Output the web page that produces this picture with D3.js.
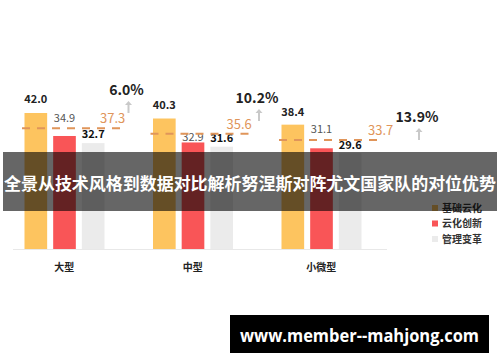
<!DOCTYPE html>
<html>
<head>
<meta charset="utf-8">
<script src="https://cdn.jsdelivr.net/npm/d3@7"></script>
<style>
  html, body { margin: 0; padding: 0; background: #fff; }
  svg { display: block; font-family: "Noto Sans CJK SC", "Noto Sans", sans-serif; }
</style>
</head>
<body>
<div id="chart"></div>
<script>
// data
var categories = ["大型", "中型", "小微型"];
var seriesNames = ["基础云化", "云化创新", "管理变革"];
var baseCloud = [42.0, 40.3, 38.4];
var cloudInnov = [34.9, 32.9, 31.1];
var mgmtChange = [32.7, 31.6, 29.6];
var averages = [37.3, 35.6, 33.7];
var growth = ["6.0%", "10.2%", "13.9%"];
var title = "全景从技术风格到数据对比解析努涅斯对阵尤文国家队的对位优势";
var watermark = "www.member--mahjong.com";

var colors = ["#fdc45f", "#f95557", "#ebebeb"];
var labelColors = ["#222", "#555", "#111"];

var W = 500, H = 362;

var svg = d3.select("#chart").append("svg")
    .attr("width", W)
    .attr("height", H);

var x0 = d3.scaleBand().domain(categories).range([0, 385.5]).padding(0);
var x1 = d3.scaleBand().domain(seriesNames).range([24.5, 104.5]).paddingInner(0.21).paddingOuter(0);
var y = d3.scaleLinear().domain([0, 42]).range([249, 113]);

var rows = categories.map(function (c, i) {
    return { cat: c, i: i, vals: [baseCloud[i], cloudInnov[i], mgmtChange[i]] };
});

// baseline
svg.append("line")
    .attr("x1", 13).attr("x2", 387)
    .attr("y1", y(0) + 0.5).attr("y2", y(0) + 0.5)
    .attr("stroke", "#e8e8e8").attr("stroke-width", 1);

var g = svg.selectAll("g.grp")
    .data(rows)
    .enter().append("g")
    .attr("class", "grp")
    .attr("transform", function (d) { return "translate(" + x0(d.cat) + ",0)"; });

g.selectAll("rect")
    .data(function (d) {
        return d.vals.map(function (v, k) { return { name: seriesNames[k], v: v, k: k }; });
    })
    .enter().append("rect")
    .attr("x", function (d) { return x1(d.name); })
    .attr("y", function (d) { return y(d.v); })
    .attr("width", x1.bandwidth())
    .attr("height", function (d) { return y(0) - y(d.v); })
    .style("fill", function (d) { return colors[d.k]; });

// how far each value label sits above its bar
var lift = [[10, 14, 5], [10, 1, 5], [9, 15, 4]];

g.selectAll("text.val")
    .data(function (d) {
        return d.vals.map(function (v, k) { return { name: seriesNames[k], v: v, k: k, i: d.i }; });
    })
    .enter().append("text")
    .attr("class", "val")
    .attr("x", function (d) { return x1(d.name) + x1.bandwidth() / 2; })
    .attr("y", function (d) { return y(d.v) - lift[d.i][d.k]; })
    .attr("text-anchor", "middle")
    .style("font-size", "11px")
    .style("font-weight", function (d) { return d.k == 1 ? "400" : "600"; })
    .style("fill", function (d) { return labelColors[d.k]; })
    .text(function (d) { return d.v.toFixed(1); });

// average dashed line
g.append("line")
    .attr("x1", 22)
    .attr("x2", 123)
    .attr("y1", function (d) { return y(averages[d.i]); })
    .attr("y2", function (d) { return y(averages[d.i]); })
    .attr("stroke", "#e0955a")
    .attr("stroke-width", 2)
    .attr("stroke-dasharray", "8,7");

var avgX = [100, 98, 111];
g.append("text")
    .attr("x", function (d) { return avgX[d.i]; })
    .attr("y", function (d) { return y(averages[d.i]) - 5; })
    .style("font-size", "13px")
    .style("fill", "#e0955a")
    .text(function (d) { return averages[d.i].toFixed(1); });

// growth labels with little arrows
var pctX = [126.5, 128.5, 160];
var pctY = [95, 103, 122];

g.append("text")
    .attr("x", function (d) { return pctX[d.i]; })
    .attr("y", function (d) { return pctY[d.i]; })
    .attr("text-anchor", "middle")
    .style("font-size", "14px")
    .style("font-weight", "700")
    .style("fill", "#222")
    .text(function (d) { return growth[d.i]; });

var arrow = g.append("g")
    .attr("transform", function (d) {
        return "translate(" + (pctX[d.i] + 2) + "," + (pctY[d.i] + 6) + ")";
    });
arrow.append("line")
    .attr("x1", 0).attr("x2", 0)
    .attr("y1", 3).attr("y2", 12)
    .attr("stroke", "#c9c9c9").attr("stroke-width", 2);
arrow.append("path")
    .attr("d", "M-3.5,4 L0,0 L3.5,4 Z")
    .style("fill", "#c9c9c9");

// category labels
svg.selectAll("text.cat")
    .data(categories)
    .enter().append("text")
    .attr("class", "cat")
    .attr("x", function (d) { return x0(d) + x0.bandwidth() / 2; })
    .attr("y", 271)
    .attr("text-anchor", "middle")
    .style("font-size", "10px")
    .style("font-weight", "700")
    .style("fill", "#222")
    .text(function (d) { return d; });

// legend
var leg = svg.selectAll("g.leg")
    .data(seriesNames)
    .enter().append("g")
    .attr("class", "leg")
    .attr("transform", function (d, i) { return "translate(432," + (205 + i * 15.5) + ")"; });
leg.append("rect")
    .attr("width", 6).attr("height", 6)
    .style("fill", function (d, i) { return colors[i]; });
leg.append("text")
    .attr("x", 10).attr("y", 3)
    .attr("dy", "0.35em")
    .style("font-size", "10px")
    .style("font-weight", "700")
    .style("fill", "#333")
    .text(function (d) { return d; });

// dark title band over the chart
svg.append("rect")
    .attr("x", 3).attr("y", 152)
    .attr("width", 494).attr("height", 59)
    .style("fill", "rgba(0,0,0,0.6)");
svg.append("text")
    .attr("x", 250).attr("y", 184)
    .attr("dy", "0.36em")
    .attr("text-anchor", "middle")
    .attr("textLength", 492)
    .attr("lengthAdjust", "spacingAndGlyphs")
    .style("font-size", "16.5px")
    .style("font-weight", "700")
    .style("fill", "#fff")
    .text(title);

// watermark box
svg.append("rect")
    .attr("x", 230).attr("y", 315)
    .attr("width", 259).attr("height", 38)
    .style("fill", "#000");
svg.append("text")
    .attr("x", 359.5).attr("y", 342)
    .attr("text-anchor", "middle")
    .attr("textLength", 239)
    .attr("lengthAdjust", "spacingAndGlyphs")
    .style("font-family", "'Open Sans', 'DejaVu Sans', sans-serif")
    .style("font-size", "17px")
    .style("font-weight", "700")
    .style("fill", "#fff")
    .text(watermark);
</script>
</body>
</html>
